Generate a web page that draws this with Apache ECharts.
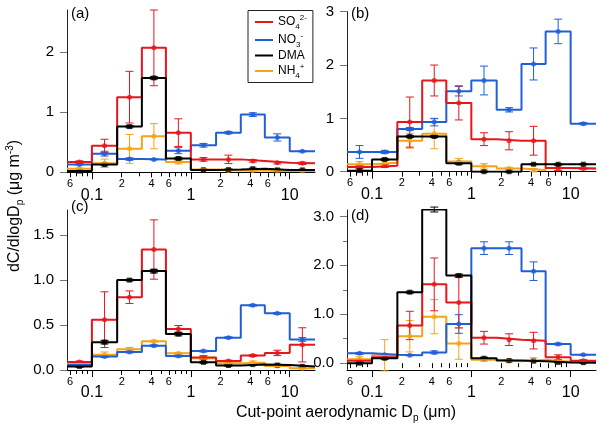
<!DOCTYPE html>
<html><head><meta charset="utf-8">
<script src="https://cdn.jsdelivr.net/npm/echarts@6/dist/echarts.min.js"></script>
<style>html,body{margin:0;padding:0;background:#fff}#c{width:600px;height:431px}</style>
</head><body><div id="c"></div>
<script>
// ---- data ----
const cutPoints = [0.056, 0.1, 0.18, 0.32, 0.56, 1.0, 1.8, 3.2, 5.6, 10, 18];
const majorTicks = [0.1, 1, 10];
const majorTickLabels = ['0.1', '1', '10'];
const labeledMinorTicks = [0.06, 0.2, 0.4, 0.6, 2, 4, 6];
const labeledMinorTickLabels = ['6', '2', '4', '6', '2', '4', '6'];
const otherMinorTicks = [0.07, 0.08, 0.09, 0.3, 0.5, 0.7, 0.8, 0.9, 3, 5, 7, 8, 9];
const speciesNames = ['SO4', 'NO3', 'DMA', 'NH4'];

// panel (a)
const a_SO4 = [0.17, 0.44, 1.25, 2.07, 0.66, 0.215, 0.215, 0.19, 0.16, 0.15];
const a_SO4_err = [0.02, 0.11, 0.43, 0.63, 0.23, 0.03, 0.07, 0.02, 0.02, 0.02];
const a_NO3 = [0.13, 0.31, 0.22, 0.215, 0.36, 0.45, 0.66, 0.96, 0.58, 0.35];
const a_NO3_err = [0.01, 0.04, 0.02, 0.01, 0.05, 0.03, 0.02, 0.03, 0.06, 0.01];
const a_DMA = [0.02, 0.13, 0.76, 1.57, 0.23, 0.04, 0.045, 0.06, 0.04, 0.04];
const a_DMA_err = [0.01, 0.02, 0.02, 0.02, 0.02, 0.01, 0.01, 0.01, 0.01, 0.01];
const a_NH4 = [0.06, 0.15, 0.39, 0.60, 0.17, 0.045, 0.03, 0.03, 0.02, 0.02];
const a_NH4_err = [0.01, 0.07, 0.24, 0.21, 0.03, 0.02, 0.01, 0.01, 0.01, 0.01];
// panel (b)
const b_SO4 = [0.09, 0.11, 0.93, 1.71, 1.29, 0.61, 0.58, 0.58, 0.07, 0.06];
const b_SO4_err = [0.03, 0.03, 0.47, 0.29, 0.32, 0.12, 0.17, 0.27, 0.05, 0.02];
const b_NO3 = [0.37, 0.37, 0.80, 0.93, 1.51, 1.71, 1.16, 2.02, 2.63, 0.90];
const b_NO3_err = [0.12, 0.03, 0.03, 0.07, 0.09, 0.27, 0.04, 0.30, 0.23, 0.02];
const b_DMA = [0.02, 0.23, 0.66, 0.66, 0.16, 0.0, 0.0, 0.14, 0.14, 0.14];
const b_DMA_err = [0.01, 0.02, 0.02, 0.02, 0.02, 0.01, 0.01, 0.01, 0.01, 0.01];
const b_NH4 = [0.14, 0.17, 0.58, 0.71, 0.19, 0.10, 0.06, 0.03, 0.07, 0.06];
const b_NH4_err = [0.05, 0.04, 0.14, 0.28, 0.06, 0.05, 0.02, 0.03, 0.04, 0.02];
// panel (c)
const c_SO4 = [0.09, 0.56, 0.81, 1.34, 0.455, 0.14, 0.10, 0.16, 0.19, 0.28];
const c_SO4_err = [0.01, 0.31, 0.07, 0.33, 0.04, 0.02, 0.01, 0.01, 0.03, 0.19];
const c_NO3 = [0.055, 0.15, 0.20, 0.27, 0.155, 0.21, 0.36, 0.72, 0.63, 0.34];
const c_NO3_err = [0.01, 0.01, 0.01, 0.01, 0.01, 0.01, 0.01, 0.01, 0.01, 0.02];
const c_DMA = [0.04, 0.31, 1.0, 1.10, 0.40, 0.085, 0.05, 0.06, 0.055, 0.04];
const c_DMA_err = [0.01, 0.02, 0.01, 0.02, 0.02, 0.01, 0.01, 0.01, 0.01, 0.01];
const c_NH4 = [0.07, 0.17, 0.23, 0.32, 0.185, 0.13, 0.075, 0.08, 0.045, 0.02];
const c_NH4_err = [0.01, 0.03, 0.02, 0.01, 0.01, 0.02, 0.01, 0.02, 0.01, 0.01];
// panel (d)
const d_SO4 = [0.05, 0.12, 0.77, 1.61, 1.24, 0.52, 0.48, 0.46, 0.12, 0.05];
const d_SO4_err = [0.02, 0.03, 0.29, 0.54, 0.52, 0.13, 0.12, 0.17, 0.05, 0.02];
const d_NO3 = [0.20, 0.17, 0.16, 0.22, 0.80, 2.35, 2.35, 1.88, 0.39, 0.17];
const d_NO3_err = [0.02, 0.01, 0.01, 0.03, 0.19, 0.13, 0.13, 0.19, 0.02, 0.01];
const d_DMA = [0.0, 0.10, 1.45, 3.14, 1.79, 0.10, 0.055, 0.04, 0.015, 0.01];
const d_DMA_err = [0.01, 0.02, 0.02, 0.05, 0.03, 0.02, 0.01, 0.01, 0.01, 0.01];
const d_NH4 = [0.08, 0.16, 0.55, 0.95, 0.40, 0.07, 0.04, 0.07, 0.03, 0.03];
const d_NH4_err = [0.05, 0.32, 0.32, 0.35, 0.32, 0.03, 0.02, 0.04, 0.02, 0.02];

// y tick values
const a_yTicks = [0, 1, 2];
const b_yTicks = [0, 1, 2, 3];
const c_yTicks = [0, 0.5, 1.0, 1.5];
const d_yTicks = [0, 1, 2, 3];
const d_yMinorTicks = [0.5, 1.5, 2.5];

// ---- chart ----
const FONT = '"Liberation Sans", Arial, sans-serif';
const COLORS = { SO4: '#e8161b', NO3: '#1f5fd8', DMA: '#000000', NH4: '#f5a418' };
const SYMBOL = { SO4: 'circle', NO3: 'circle', DMA: 'rect', NH4: 'circle' };
const xMin = cutPoints[0], xMax = cutPoints[cutPoints.length - 1];
const midPoints = cutPoints.slice(0, -1).map((c, i) => Math.sqrt(c * cutPoints[i + 1]));

const panels = [
  { label: '(a)', lx: 71, ly: 15, grid: { left: 67, top: 10, width: 248, height: 162.3 }, ymin: 0, ymax: 2.7, ticks: a_yTicks, minor: [], dec: 0,
    data: { SO4: [a_SO4, a_SO4_err], NO3: [a_NO3, a_NO3_err], DMA: [a_DMA, a_DMA_err], NH4: [a_NH4, a_NH4_err] } },
  { label: '(b)', lx: 351, ly: 15, grid: { left: 347, top: 11.7, width: 249, height: 160 }, ymin: 0, ymax: 3, ticks: b_yTicks, minor: [], dec: 0,
    data: { SO4: [b_SO4, b_SO4_err], NO3: [b_NO3, b_NO3_err], DMA: [b_DMA, b_DMA_err], NH4: [b_NH4, b_NH4_err] } },
  { label: '(c)', lx: 71, ly: 208, grid: { left: 67, top: 210, width: 248, height: 160 }, ymin: 0, ymax: 1.78, ticks: c_yTicks, minor: [], dec: 1,
    data: { SO4: [c_SO4, c_SO4_err], NO3: [c_NO3, c_NO3_err], DMA: [c_DMA, c_DMA_err], NH4: [c_NH4, c_NH4_err] } },
  { label: '(d)', lx: 351, ly: 217, grid: { left: 347, top: 210, width: 249, height: 160 }, ymin: -0.14, ymax: 3.13, ticks: d_yTicks, minor: d_yMinorTicks, dec: 1,
    data: { SO4: [d_SO4, d_SO4_err], NO3: [d_NO3, d_NO3_err], DMA: [d_DMA, d_DMA_err], NH4: [d_NH4, d_NH4_err] } }
];

const grids = [], xAxes = [], yAxes = [], series = [], graphics = [];
const drawOrder = ['NH4', 'NO3', 'SO4', 'DMA'];

panels.forEach((p, g) => {
  grids.push(Object.assign({ outerBoundsMode: 'none', containLabel: false }, p.grid));
  const xBase = xAxes.length;
  const common = { type: 'log', gridIndex: g, min: xMin, max: xMax, position: 'bottom', splitLine: { show: false }, minorTick: { show: false }, minorSplitLine: { show: false } };
  xAxes.push(Object.assign({}, common, {
    axisLine: { show: true, onZero: false, lineStyle: { color: '#000', width: 1 } },
    axisTick: { show: true, length: 7, customValues: majorTicks, lineStyle: { color: '#000', width: 1 } },
    axisLabel: { customValues: majorTicks, fontSize: 16, margin: 15, color: '#000', fontFamily: FONT,
      formatter: v => majorTickLabels[majorTicks.findIndex(t => Math.abs(t - v) < 1e-9)] }
  }));
  xAxes.push(Object.assign({}, common, {
    axisLine: { show: false },
    axisTick: { show: true, length: 5, customValues: labeledMinorTicks, lineStyle: { color: '#000', width: 1 } },
    axisLabel: { customValues: labeledMinorTicks, fontSize: 11, margin: 6, color: '#000', fontFamily: FONT,
      formatter: v => labeledMinorTickLabels[labeledMinorTicks.findIndex(t => Math.abs(t - v) < 1e-9)] }
  }));
  xAxes.push(Object.assign({}, common, {
    axisLine: { show: false },
    axisTick: { show: true, length: 4, customValues: otherMinorTicks, lineStyle: { color: '#000', width: 1 } },
    axisLabel: { show: false }
  }));
  const yIdx = yAxes.length;
  yAxes.push({
    type: 'value', gridIndex: g, min: p.ymin, max: p.ymax,
    axisLine: { show: true, onZero: false, lineStyle: { color: '#222', width: 1 } },
    axisTick: { show: true, length: 7, customValues: p.ticks, lineStyle: { color: '#777', width: 1 } },
    axisLabel: { customValues: p.ticks, fontSize: 15, margin: 13, color: '#000', fontFamily: FONT,
      formatter: v => (+v).toFixed(p.dec) },
    splitLine: { show: false }
  });
  if (p.minor.length) {
    yAxes.push({
      type: 'value', gridIndex: g, min: p.ymin, max: p.ymax, position: 'left',
      axisLine: { show: false },
      axisTick: { show: true, length: 4, customValues: p.minor, lineStyle: { color: '#777', width: 1 } },
      axisLabel: { show: false }, splitLine: { show: false }
    });
  }
  drawOrder.forEach(sp => {
    const vals = p.data[sp][0], errs = p.data[sp][1], color = COLORS[sp];
    series.push({
      type: 'line', name: sp, xAxisIndex: xBase, yAxisIndex: yIdx, step: 'end', showSymbol: false, silent: true,
      data: cutPoints.map((c, i) => [c, vals[Math.min(i, vals.length - 1)]]),
      lineStyle: { color, width: 2 }, itemStyle: { color }, animation: false
    });
    series.push({
      type: 'custom', name: sp + ' err', xAxisIndex: xBase, yAxisIndex: yIdx, silent: true, animation: false, clip: false,
      data: midPoints.map((m, i) => [m, vals[i] - errs[i], vals[i] + errs[i]]),
      encode: { x: 0, y: [1, 2] },
      renderItem: (params, api) => {
        const x = api.value(0);
        const p1 = api.coord([x, api.value(1)]), p2 = api.coord([x, api.value(2)]);
        const cw = 4, st = { stroke: color, lineWidth: 1 };
        return { type: 'group', children: [
          { type: 'line', shape: { x1: p1[0], y1: p1[1], x2: p2[0], y2: p2[1] }, style: st },
          { type: 'line', shape: { x1: p1[0] - cw, y1: p1[1], x2: p1[0] + cw, y2: p1[1] }, style: st },
          { type: 'line', shape: { x1: p2[0] - cw, y1: p2[1], x2: p2[0] + cw, y2: p2[1] }, style: st }
        ] };
      }
    });
    series.push({
      type: 'scatter', name: sp + ' pt', xAxisIndex: xBase, yAxisIndex: yIdx, silent: true, animation: false,
      symbol: SYMBOL[sp], symbolSize: 5, itemStyle: { color },
      data: midPoints.map((m, i) => [m, vals[i]])
    });
  });
  graphics.push({ type: 'text', left: p.lx, top: p.ly - 9, style: { text: p.label, fontSize: 15, fontFamily: FONT, fill: '#000' } });
});

const rich = {
  n: { fontSize: 16, fontFamily: FONT, fill: '#000', color: '#000', lineHeight: 20 },
  sub: { fontSize: 10, fontFamily: FONT, fill: '#000', color: '#000', lineHeight: 10, verticalAlign: 'bottom' },
  sup: { fontSize: 10, fontFamily: FONT, fill: '#000', color: '#000', lineHeight: 10, verticalAlign: 'top' }
};
graphics.push({
  type: 'text', x: 15, y: 206, rotation: Math.PI / 2,
  style: { text: '{n|dC/dlogD}{sub|p}{n| (μg m}{sup|-3}{n|)}', rich, align: 'center', verticalAlign: 'middle' }
});
graphics.push({
  type: 'text', x: 346, y: 413,
  style: { text: '{n|Cut-point aerodynamic D}{sub|p}{n| (μm)}', rich, align: 'center', verticalAlign: 'middle' }
});

const legendLabels = { SO4: '{n|SO}{sub|4}{sup|2-}', NO3: '{n|NO}{sub|3}{sup|-}', DMA: '{n|DMA}', NH4: '{n|NH}{sub|4}{sup|+}' };

const chart = echarts.init(document.getElementById('c'), null, { renderer: 'canvas' });
chart.setOption({
  animation: false,
  backgroundColor: '#fff',
  grid: grids,
  xAxis: xAxes,
  yAxis: yAxes,
  legend: {
    orient: 'vertical', left: 248, top: 10.5, padding: [3, 6, 3, 7], itemGap: 1, itemWidth: 18, itemHeight: 2, itemTextGap: 6,
    icon: 'rect', borderColor: '#222', borderWidth: 1, selectedMode: false,
    data: speciesNames,
    formatter: name => legendLabels[name],
    textStyle: {
      fontFamily: FONT, fontSize: 12, color: '#000',
      rich: {
        n: { fontSize: 12, fontFamily: FONT, color: '#000', lineHeight: 17 },
        sub: { fontSize: 8, fontFamily: FONT, color: '#000', lineHeight: 8, verticalAlign: 'bottom' },
        sup: { fontSize: 8, fontFamily: FONT, color: '#000', lineHeight: 8, verticalAlign: 'top' }
      }
    }
  },
  graphic: graphics,
  series
});
</script>
</body></html>
